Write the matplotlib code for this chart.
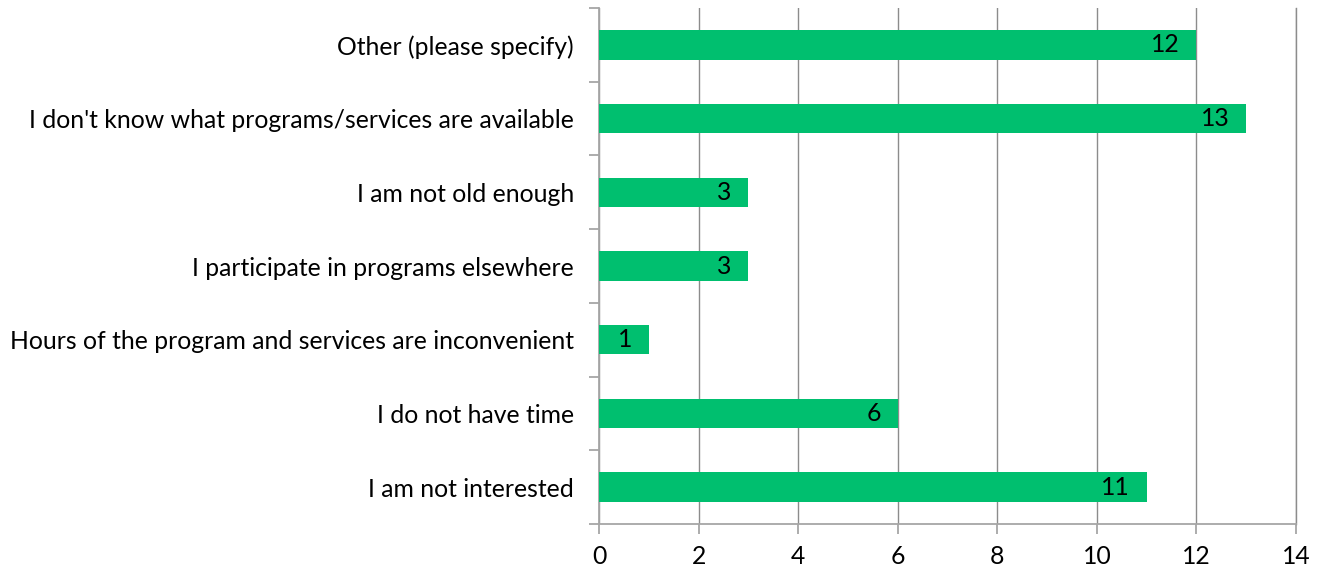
import matplotlib
matplotlib.use("Agg")
import matplotlib.pyplot as plt
from matplotlib.ticker import FixedLocator

categories = [
    "I am not interested",
    "I do not have time",
    "Hours of the program and services are inconvenient",
    "I participate in programs elsewhere",
    "I am not old enough",
    "I don't know what programs/services are available",
    "Other (please specify)",
]
counts = [11, 6, 1, 3, 3, 13, 12]
x_ticks = [0, 2, 4, 6, 8, 10, 12, 14]

plt.rcParams["font.family"] = ["Lato", "DejaVu Sans"]
FS = 17.8

fig = plt.figure(figsize=(13.24, 5.77), dpi=100)
ax = fig.add_axes([599 / 1324, 1 - 524 / 577, (1296 - 599) / 1324, (524 - 8) / 577])

bar_color = "#00BF6F"
grid_color = "#8C8C8C"
axis_color = "#A6A6A6"

ypos = list(range(len(categories)))
ax.barh(ypos, counts, height=0.4, color=bar_color, zorder=3)

for y, v in zip(ypos, counts):
    ax.annotate(str(v), xy=(v, y), xytext=(-12, 0), textcoords="offset points",
                ha="right", va="center", fontsize=FS, color="black", zorder=4)

ax.set_xlim(0, 14)
ax.set_ylim(-0.5, len(categories) - 0.5)
ax.set_xticks(x_ticks)
ax.set_xticklabels([str(t) for t in x_ticks], fontsize=FS)
ax.set_yticks(ypos)
ax.set_yticklabels(categories, fontsize=FS)
ax.tick_params(axis="y", length=0, pad=18)
ax.tick_params(axis="x", length=7, width=1.3, color=axis_color, pad=8)

# category boundary ticks on the value axis side
ax.yaxis.set_minor_locator(FixedLocator([i - 0.5 for i in range(len(categories) + 1)]))
ax.tick_params(axis="y", which="minor", length=7, width=1.3, color=axis_color)

ax.grid(axis="x", color=grid_color, linewidth=1.0, zorder=0)
ax.spines["top"].set_visible(False)
ax.spines["right"].set_color(grid_color)
ax.spines["right"].set_linewidth(1.0)
for side in ("left", "bottom"):
    ax.spines[side].set_color(axis_color)
    ax.spines[side].set_linewidth(1.3)

fig.savefig("out.png", dpi=100)
